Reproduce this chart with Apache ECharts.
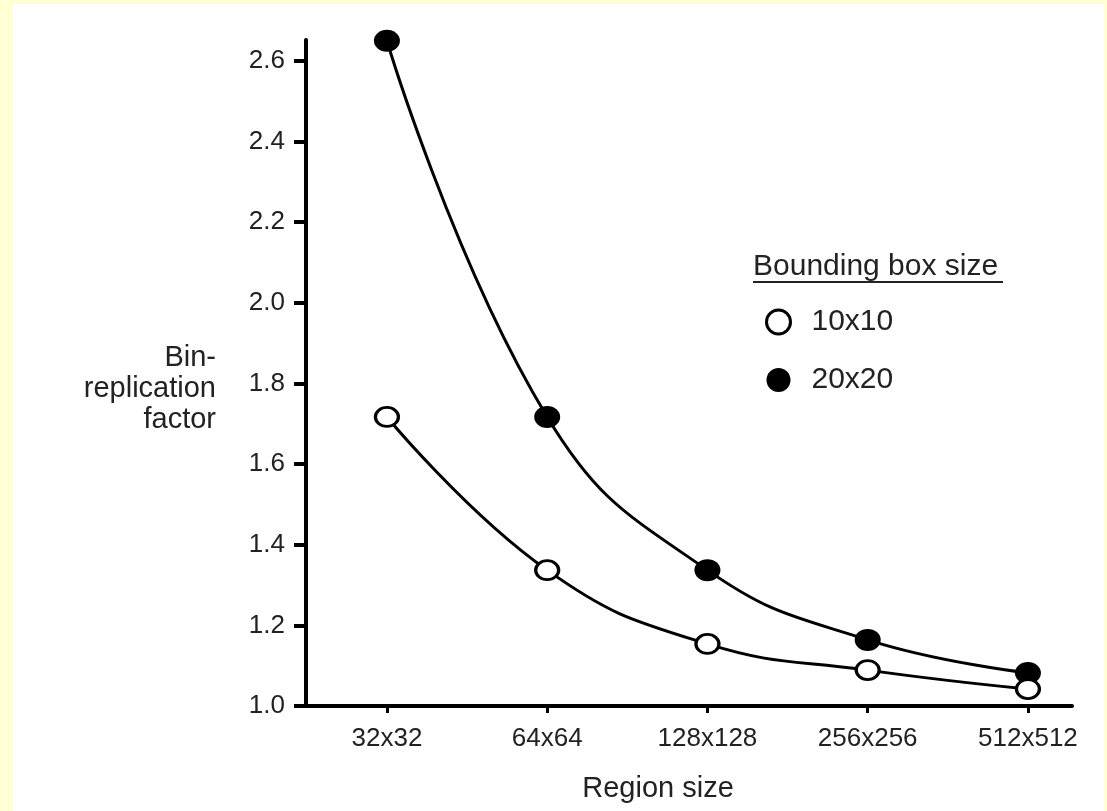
<!DOCTYPE html>
<html>
<head>
<meta charset="utf-8">
<script src="https://cdn.jsdelivr.net/npm/echarts@6/dist/echarts.min.js"></script>
<style>
  html, body { margin: 0; padding: 0; background: #FFFFD4; }
  #chart { width: 1107px; height: 811px; }
</style>
</head>
<body>
<div id="chart"></div>
<script>
const categories = ['32x32', '64x64', '128x128', '256x256', '512x512'];
const series10 = [1.717, 1.337, 1.154, 1.089, 1.042];
const series20 = [2.65, 1.717, 1.337, 1.164, 1.082];
const yTicks = [1.0, 1.2, 1.4, 1.6, 1.8, 2.0, 2.2, 2.4, 2.6];
const xTicks = categories.map((c, i) => i);
const legendTitle = 'Bounding box size';
const seriesNames = ['10x10', '20x20'];
const yTitle = 'Bin-\nreplication\nfactor';
const xTitle = 'Region size';

const FONT = '"Liberation Sans", Arial, Helvetica, sans-serif';
const TXT = '#222';

const toPairs = arr => arr.map((v, i) => [i, v]);

const chart = echarts.init(document.getElementById('chart'));
chart.setOption({
  backgroundColor: '#FFFFD4',
  animation: false,
  textStyle: { fontFamily: FONT },
  graphic: [
    { type: 'rect', z: -100, silent: true, shape: { x: 13, y: 4, width: 1091, height: 807 }, style: { fill: '#ffffff' } },
    { type: 'text', x: 216, y: 389, style: { text: yTitle, font: '29px ' + FONT, fill: TXT, align: 'right', verticalAlign: 'middle', lineHeight: 31 } },
    { type: 'text', left: 753, top: 252, style: { text: legendTitle, font: '30px ' + FONT, fill: TXT } },
    { type: 'line', shape: { x1: 753, y1: 282, x2: 1003, y2: 282 }, style: { stroke: TXT, lineWidth: 2 } }
  ],
  legend: {
    orient: 'vertical',
    left: 765,
    top: 307,
    padding: 0,
    itemWidth: 24,
    itemHeight: 24,
    itemGap: 28,
    icon: 'circle',
    textStyle: { fontSize: 30, color: TXT, fontFamily: FONT, lineHeight: 30, padding: [0, 0, 0, 16] },
    data: [
      { name: seriesNames[0], itemStyle: { color: '#fff', borderColor: '#000', borderWidth: 3 } },
      { name: seriesNames[1], itemStyle: { color: '#000', borderWidth: 0 } }
    ]
  },
  grid: { left: 306, right: 35, top: 40, bottom: 105, containLabel: false },
  xAxis: {
    type: 'value',
    min: -0.505,
    max: 4.275,
    splitLine: { show: false },
    axisLine: { show: true, onZero: false, lineStyle: { color: '#000', width: 4 } },
    axisTick: { show: true, length: 7, lineStyle: { color: '#000', width: 3 }, customValues: xTicks },
    axisLabel: {
      customValues: xTicks,
      formatter: v => categories[Math.round(v)],
      fontSize: 26, color: TXT, fontFamily: FONT, margin: 20
    },
    name: xTitle,
    nameLocation: 'middle',
    nameGap: 68,
    nameTextStyle: { fontSize: 29, color: TXT, fontFamily: FONT, padding: [0, 62, 0, 0] }
  },
  yAxis: {
    type: 'value',
    min: 1.0,
    max: 2.652,
    splitLine: { show: false },
    axisLine: { show: true, onZero: false, lineStyle: { color: '#000', width: 4 } },
    axisTick: { show: true, length: 12, lineStyle: { color: '#000', width: 4 }, customValues: yTicks },
    axisLabel: {
      customValues: yTicks,
      formatter: v => v.toFixed(1),
      fontSize: 26, color: TXT, fontFamily: FONT, margin: 21
    }
  },
  series: [
    {
      name: seriesNames[1],
      type: 'line',
      data: toPairs(series20),
      smooth: 0.45,
      symbol: 'circle',
      symbolSize: [26, 22],
      lineStyle: { color: '#000', width: 3 },
      itemStyle: { color: '#000' },
      z: 2
    },
    {
      name: seriesNames[0],
      type: 'line',
      data: toPairs(series10),
      smooth: 0.45,
      symbol: 'circle',
      symbolSize: [23, 19],
      lineStyle: { color: '#000', width: 3 },
      itemStyle: { color: '#fff', borderColor: '#000', borderWidth: 3 },
      z: 3
    }
  ]
});
</script>
</body>
</html>
